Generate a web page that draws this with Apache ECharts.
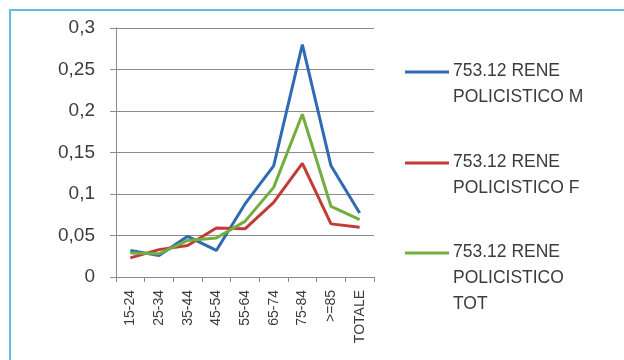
<!DOCTYPE html>
<html>
<head>
<meta charset="utf-8">
<script src="https://cdn.jsdelivr.net/npm/echarts@6/dist/echarts.min.js"></script>
<style>
  html, body { margin: 0; padding: 0; background: #fff; }
  #chart { width: 624px; height: 360px; }
</style>
</head>
<body>
<div id="chart"></div>
<script>
// Age groups on the category axis
const categories = ['15-24', '25-34', '35-44', '45-54', '55-64', '65-74', '75-84', '>=85', 'TOTALE'];

// Rates per age group
const maleValues   = [0.032, 0.026, 0.049, 0.032, 0.088, 0.134, 0.280, 0.134, 0.077];
const femaleValues = [0.023, 0.033, 0.038, 0.059, 0.058, 0.090, 0.137, 0.064, 0.060];
const totalValues  = [0.029, 0.028, 0.044, 0.047, 0.067, 0.108, 0.196, 0.085, 0.069];

const seriesNames = [
  '753.12 RENE POLICISTICO M',
  '753.12 RENE POLICISTICO F',
  '753.12 RENE POLICISTICO TOT'
];
// Legend text split over lines
const legendLines = [
  ['753.12 RENE', 'POLICISTICO M'],
  ['753.12 RENE', 'POLICISTICO F'],
  ['753.12 RENE', 'POLICISTICO', 'TOT']
];
const yTicks = { min: 0, max: 0.3, interval: 0.05 };

const colors = ['#2f6bb3', '#c23b37', '#72ad3e'];
const seriesValues = [maleValues, femaleValues, totalValues];

const chart = echarts.init(document.getElementById('chart'));

const fontFamily = '"Liberation Sans", Arial, sans-serif';
const textColor = '#3c3c3c';

// Legend drawn as graphic lines and text, the line level with the first text row
const legendGraphics = [];
const legendTop = [72, 163, 253];
legendLines.forEach((lines, i) => {
  legendGraphics.push({
    type: 'line',
    shape: { x1: 405, y1: legendTop[i], x2: 449, y2: legendTop[i] },
    style: { stroke: colors[i], lineWidth: 3 }
  });
  lines.forEach((t, j) => {
    legendGraphics.push({
      type: 'text',
      left: 453,
      top: legendTop[i] - 10 + j * 26,
      style: { text: t, fill: textColor, font: '17.5px ' + fontFamily }
    });
  });
});

// Frame around the chart
legendGraphics.push({
  type: 'rect',
  shape: { x: 10, y: 10, width: 700, height: 400 },
  style: { fill: 'none', stroke: '#63bce2', lineWidth: 2 },
  silent: true
});

chart.setOption({
  animation: false,
  backgroundColor: '#ffffff',
  grid: { left: 116, right: 250, top: 28, bottom: 83 },
  xAxis: {
    type: 'category',
    data: categories,
    boundaryGap: true,
    axisLine: { lineStyle: { color: '#8c8c8c', width: 1 } },
    axisTick: { show: true, length: 5, lineStyle: { color: '#8c8c8c' } },
    axisLabel: {
      rotate: 90,
      interval: 0,
      color: textColor,
      fontSize: 14,
      fontFamily: fontFamily,
      margin: 13
    }
  },
  yAxis: {
    type: 'value',
    min: yTicks.min,
    max: yTicks.max,
    interval: yTicks.interval,
    axisLine: { show: true, lineStyle: { color: '#8c8c8c', width: 1 } },
    axisTick: { show: true, length: 6, lineStyle: { color: '#8c8c8c' } },
    splitLine: { show: true, lineStyle: { color: '#8c8c8c', width: 1 } },
    axisLabel: {
      color: textColor,
      fontSize: 19,
      fontFamily: fontFamily,
      margin: 21,
      formatter: v => String(+v.toFixed(2)).replace('.', ',')
    }
  },
  series: seriesNames.map((name, i) => ({
    name: name,
    type: 'line',
    data: seriesValues[i],
    symbol: 'none',
    smooth: false,
    lineStyle: { color: colors[i], width: 3 },
    itemStyle: { color: colors[i] }
  })),
  graphic: legendGraphics
});
</script>
</body>
</html>
